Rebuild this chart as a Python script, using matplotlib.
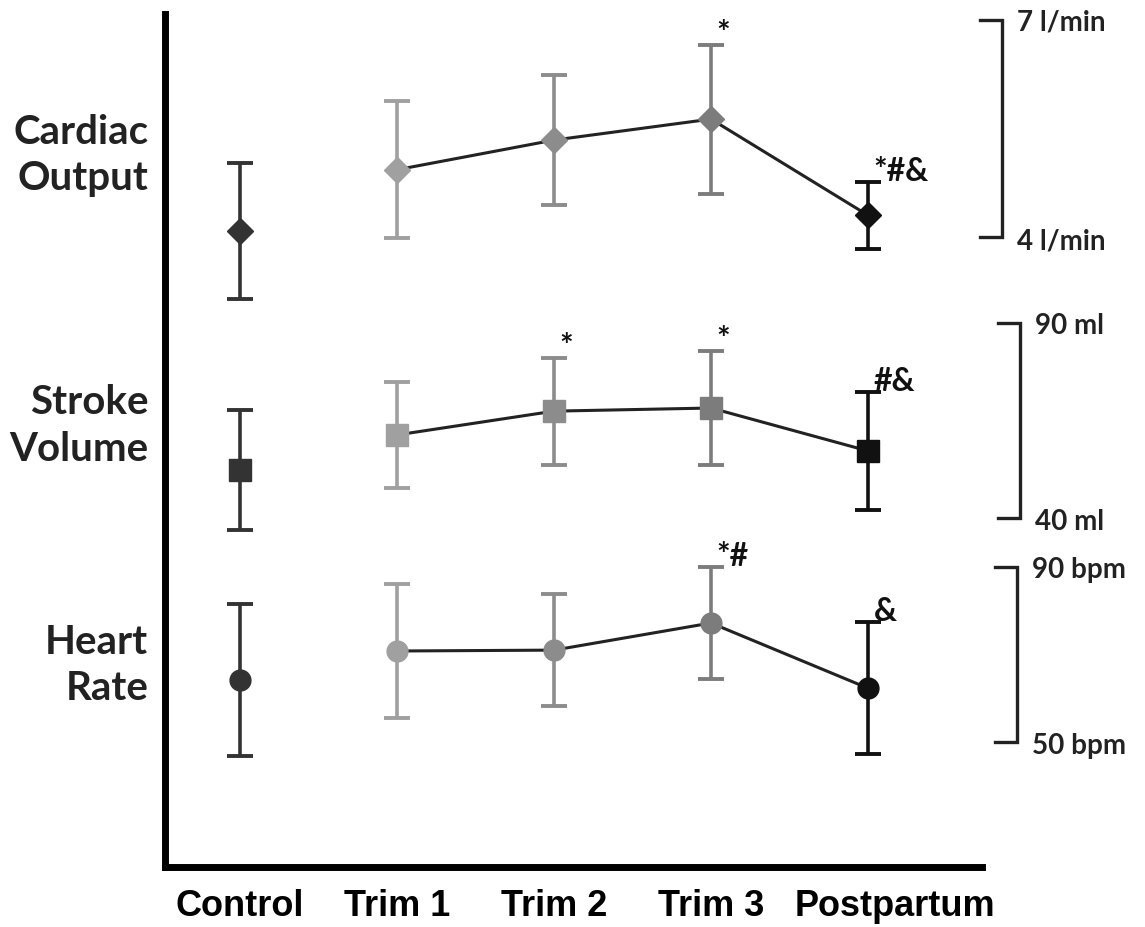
import numpy as np
import matplotlib
matplotlib.use('Agg')
import matplotlib.pyplot as plt
import matplotlib.transforms as mtransforms


# data
groups = ['Control', 'Trim 1', 'Trim 2', 'Trim 3', 'Postpartum']

co_mean = [4.08, 4.93, 5.34, 5.63, 4.30]
co_err = [0.94, 0.95, 0.90, 1.03, 0.46]

sv_mean = [52.3, 61.3, 67.4, 68.2, 57.2]
sv_err = [15.4, 13.5, 13.7, 14.7, 15.2]

hr_mean = [64.2, 70.8, 71.0, 77.2, 62.3]
hr_err = [17.4, 15.4, 12.8, 12.9, 15.1]

co_marks = ['', '', '', '*', '*#&']
sv_marks = ['', '', '*', '*', '#&']
hr_marks = ['', '', '', '*#', '&']

panel_names = ['Cardiac\nOutput', 'Stroke\nVolume', 'Heart\nRate']
scale_lo = ['4 l/min', '40 ml', '50 bpm']
scale_hi = ['7 l/min', '90 ml', '90 bpm']
ranges = [(4, 7), (40, 90), (50, 90)]


group_colors = ['#333333', '#a0a0a0', '#8c8c8c', '#7c7c7c', '#111111']
W, H = 1145, 927
left_px, right_px, top_px, bot_px = 165, 982, 14, 867
x0_px, dx_px = 240, 157

# bracket (top, bottom) pixel rows, bracket x and name row for each panel
bracket_rows = [(20, 237), (323, 518), (567, 742)]
bracket_x = [1002, 1020, 1017]
name_rows = [155, 426, 666]
markers = ['D', 's', 'o']
msizes = [13, 16, 15]

label_font = ['Liberation Sans', 'DejaVu Sans']
side_font = ['Lato', 'DejaVu Sans']

fig = plt.figure(figsize=(W / 100, H / 100), dpi=100)
pos = [left_px / W, 1 - bot_px / H, (right_px - left_px) / W, (bot_px - top_px) / H]
xlim = ((left_px - x0_px) / dx_px, (right_px - x0_px) / dx_px)

ax = fig.add_axes(pos)
ax.set_xlim(*xlim)
ax.set_ylim(0, 1)
for s in ['top', 'right']:
    ax.spines[s].set_visible(False)
for s in ['left', 'bottom']:
    ax.spines[s].set_linewidth(5)
    ax.spines[s].set_color('black')
ax.set_yticks([])
ax.set_xticks(range(len(groups)))
ax.set_xticklabels(groups, fontsize=26, fontweight='bold', family=label_font)
ax.tick_params(axis='x', length=0, pad=16)
# last label sits a bit to the right in the original
last = ax.get_xticklabels()[-1]
last.set_transform(last.get_transform() +
                   mtransforms.ScaledTranslation(27 / 100, 0, fig.dpi_scale_trans))

x = np.arange(len(groups))
all_means = [co_mean, sv_mean, hr_mean]
all_errs = [co_err, sv_err, hr_err]
all_marks = [co_marks, sv_marks, hr_marks]

for k in range(3):
    lo, hi = ranges[k]
    r_top, r_bot = bracket_rows[k]
    per_px = (hi - lo) / (r_bot - r_top)
    pax = fig.add_axes(pos, sharex=ax)
    pax.set_ylim(lo - (bot_px - r_bot) * per_px, hi + (r_top - top_px) * per_px)
    pax.axis('off')
    pax.patch.set_alpha(0)

    means = all_means[k]
    errs = all_errs[k]
    pax.plot(x[1:], means[1:], color='#222222', lw=2.2, zorder=2)
    for i in range(len(groups)):
        pax.errorbar(x[i], means[i], yerr=errs[i], fmt=markers[k],
                     color=group_colors[i], ms=msizes[k], mec=group_colors[i],
                     ecolor=group_colors[i], elinewidth=2.6, capsize=9.5,
                     capthick=2.8, zorder=3)
        if all_marks[k][i]:
            pax.annotate(all_marks[k][i], (x[i], means[i] + errs[i]),
                         xytext=(4, -3), textcoords='offset points',
                         ha='left', va='bottom', fontsize=23,
                         fontweight='bold', family=side_font, color='#111111')

    # scale bracket on the right
    bx = (bracket_x[k] - x0_px) / dx_px
    arm = 22 / dx_px
    pax.plot([bx - arm, bx, bx, bx - arm], [hi, hi, lo, lo], color='#222222',
             lw=2.4, clip_on=False, solid_joinstyle='miter')
    pax.annotate(scale_hi[k], (bx, hi), xytext=(11, -2), textcoords='offset points',
                 ha='left', va='center', fontsize=20, fontweight='bold',
                 family=side_font, color='#222222', annotation_clip=False)
    pax.annotate(scale_lo[k], (bx, lo), xytext=(11, -3), textcoords='offset points',
                 ha='left', va='center', fontsize=20, fontweight='bold',
                 family=side_font, color='#222222', annotation_clip=False)

    # panel name to the left of the axis
    ny = hi - (name_rows[k] - r_top) * per_px
    pax.annotate(panel_names[k], (xlim[0], ny), xytext=(-12, 0),
                 textcoords='offset points', ha='right', va='center',
                 fontsize=29, fontweight='bold', family=side_font,
                 color='#222222', linespacing=1.3, annotation_clip=False)

fig.savefig('out.png', dpi=100)
